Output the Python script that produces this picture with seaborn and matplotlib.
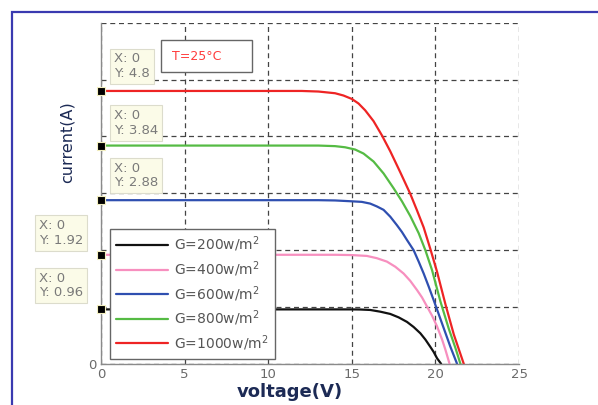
import numpy as np
import pandas as pd
import matplotlib
matplotlib.use("Agg")
import matplotlib.pyplot as plt
from matplotlib.patches import Rectangle
import seaborn as sns

# irradiance levels and their I-V curves
labels = ["G=200w/m$^2$", "G=400w/m$^2$", "G=600w/m$^2$", "G=800w/m$^2$", "G=1000w/m$^2$"]
colors = ["#111111", "#f78fbf", "#2f4fb0", "#55bb44", "#ee2424"]

v_200 = [0, 12, 14, 15, 15.5, 16.1, 16.7, 17.3, 17.8, 18.3, 18.7, 19.1, 19.4, 19.7, 19.9, 20.1, 20.35]
i_200 = [0.96, 0.96, 0.96, 0.96, 0.958, 0.95, 0.92, 0.88, 0.82, 0.74, 0.65, 0.54, 0.43, 0.30, 0.21, 0.10, 0.0]

v_400 = [0, 12, 14, 15, 15.9, 16.5, 17.1, 17.6, 18.1, 18.5, 18.9, 19.2, 19.5, 19.8, 20.1, 20.4, 20.6, 20.85]
i_400 = [1.92, 1.92, 1.92, 1.915, 1.90, 1.86, 1.80, 1.71, 1.59, 1.46, 1.30, 1.17, 1.01, 0.85, 0.66, 0.43, 0.25, 0.0]

v_600 = [0, 12, 13, 14, 15, 15.6, 16.1, 16.5, 16.9, 17.3, 17.7, 18.0, 18.3, 18.7, 19.0, 19.3, 19.6, 19.9, 20.4, 20.9, 21.3]
i_600 = [2.88, 2.88, 2.88, 2.875, 2.86, 2.85, 2.82, 2.77, 2.71, 2.59, 2.44, 2.32, 2.18, 2.0, 1.80, 1.59, 1.36, 1.12, 0.71, 0.30, 0.0]

v_800 = [0, 12, 13, 14, 14.6, 15.2, 15.7, 16.3, 16.9, 17.5, 18.0, 18.5, 19.0, 19.4, 19.8, 20.3, 20.8, 21.2, 21.5]
i_800 = [3.84, 3.84, 3.84, 3.83, 3.81, 3.77, 3.70, 3.56, 3.35, 3.09, 2.86, 2.60, 2.30, 2.00, 1.65, 1.10, 0.62, 0.28, 0.0]

v_1000 = [0, 12, 13, 14, 14.5, 15, 15.4, 15.8, 16.3, 16.8, 17.3, 17.9, 18.5, 18.9, 19.3, 19.7, 20.1, 20.6, 21.1, 21.7]
i_1000 = [4.80, 4.80, 4.79, 4.76, 4.72, 4.66, 4.58, 4.46, 4.27, 4.02, 3.74, 3.37, 2.99, 2.70, 2.40, 2.02, 1.62, 1.05, 0.52, 0.0]

# data tips shown on the plot
tip_x = [0, 0, 0, 0, 0]
tip_y = [0.96, 1.92, 2.88, 3.84, 4.8]

x_ticks = [0, 5, 10, 15, 20, 25]
y_ticks = [0, 1, 2, 3, 4, 5, 6]

curves = [(v_200, i_200), (v_400, i_400), (v_600, i_600), (v_800, i_800), (v_1000, i_1000)]
frames = []
for lab, (v, i) in zip(labels, curves):
    frames.append(pd.DataFrame({"V": v, "I": i, "G": lab}))
df = pd.concat(frames, ignore_index=True)
tips = pd.DataFrame({"V": tip_x, "I": tip_y, "G": labels})

sns.set_theme(style="white")
plt.rcParams["font.family"] = ["DejaVu Sans"]

fig = plt.figure(figsize=(5.98, 4.05), dpi=100)
ax = fig.add_axes([101 / 598, 41 / 405, 418 / 598, 341.3 / 405])

sns.lineplot(data=df, x="V", y="I", hue="G", hue_order=labels,
             palette=dict(zip(labels, colors)), sort=False, estimator=None,
             linewidth=1.6, legend=False, ax=ax, zorder=3)

ax.set_xlim(0, 25)
ax.set_ylim(0, 6)
ax.set_xticks(x_ticks)
ax.set_yticks(y_ticks)
ax.set_yticklabels(["0"] + [""] * (len(y_ticks) - 1))
ax.tick_params(axis="both", direction="in", length=3, width=0.8, colors="#777777",
               labelcolor="#6a6a6a", labelsize=9.5, pad=3)
ax.grid(True, color="#444444", linestyle=(0, (4, 3)), linewidth=0.9)
for side in ["top", "right"]:
    ax.spines[side].set_visible(False)
for side in ["left", "bottom"]:
    ax.spines[side].set_color("#8a8a8a")
    ax.spines[side].set_linewidth(1.0)
    ax.spines[side].set_zorder(4)

ax.set_xlabel("voltage(V)", fontsize=13, fontweight="bold", color="#1c2a55")
ax.xaxis.set_label_coords(0.452, -0.056)
ax.set_ylabel("current(A)", fontsize=11.5, color="#1c2a55")
ax.yaxis.set_label_coords(-0.062, 0.65)

# datatip markers and boxes
sns.scatterplot(data=tips, x="V", y="I", marker="s", s=40, color="black",
                edgecolor="#f3efc0", linewidth=0.8, legend=False, ax=ax,
                zorder=6, clip_on=False)
offsets = [(-62, 10), (-62, 8), (13, 11), (13, 9), (13, 11)]
for x, y, (dx, dy) in zip(tip_x, tip_y, offsets):
    ax.annotate(f"X: {x}\nY: {y:g}", xy=(x, y), xytext=(dx, dy),
                textcoords="offset pixels", ha="left", va="bottom",
                fontsize=9.5, color="#7a7a7a", linespacing=1.15,
                annotation_clip=False, zorder=5,
                bbox=dict(boxstyle="square,pad=0.3", facecolor="#fbfbe8",
                          edgecolor="#dcdccc", linewidth=0.8))

# temperature box
ax.add_patch(Rectangle((0.1435, 0.8555), 0.2177, 0.0938, transform=ax.transAxes,
                       facecolor="white", edgecolor="#666666", linewidth=1.0, zorder=5))
ax.text(0.17, 0.902, "T=25°C", transform=ax.transAxes, ha="left", va="center",
        fontsize=9, color="#ff3b3b", zorder=6)

leg = ax.legend(handles=ax.lines[:5], labels=labels, loc="upper left",
                bbox_to_anchor=(0.0215, 0.3955), borderaxespad=0, fontsize=10,
                handlelength=3.75, handletextpad=0.45, labelspacing=0.36,
                borderpad=0.42, frameon=True, fancybox=False, framealpha=1,
                edgecolor="#666666", facecolor="white")
leg.set_zorder(7)
for t in leg.get_texts():
    t.set_color("#555555")

# blue outer frame
fig.add_artist(Rectangle((12 / 598, -0.05), 1.0, 1 - 12 / 405 + 0.05,
                         transform=fig.transFigure, fill=False,
                         edgecolor="#3a3ab0", linewidth=1.6))

fig.savefig("out.png", dpi=100)
